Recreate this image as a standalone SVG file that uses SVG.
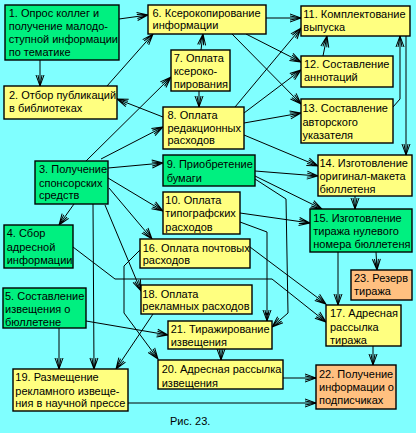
<svg xmlns="http://www.w3.org/2000/svg" width="416" height="433" viewBox="0 0 416 433">
<style>
.b{stroke:#000;stroke-width:1.4}
.g{fill:#00F080}
.y{fill:#FFFF80}
.o{fill:#FFC080}
text{font-family:"Liberation Sans",Arial,sans-serif;font-size:11px;fill:#000}
.c line,.c polyline{stroke:#000;stroke-width:1;fill:none;marker-end:url(#a)}
</style>
<defs>
<marker id="a" viewBox="-12 -5 13 10" markerWidth="13" markerHeight="10" refX="0" refY="0" orient="auto" markerUnits="userSpaceOnUse" overflow="visible">
<path d="M-11,-4 L0,0 L-11,4 M-11,-2 L0,0 L-11,2" fill="none" stroke="#000" stroke-width="1"/>
</marker>
</defs>
<rect width="416" height="433" fill="#80FFFF"/>
<g class="c">
<line x1="119" y1="19" x2="148" y2="15"/>
<line x1="40" y1="60" x2="40" y2="86"/>
<line x1="107" y1="86" x2="153" y2="34"/>
<line x1="163" y1="117" x2="117" y2="99"/>
<line x1="86" y1="161" x2="171" y2="77"/>
<line x1="101" y1="159" x2="163" y2="127"/>
<line x1="201" y1="50" x2="203" y2="34"/>
<line x1="199" y1="91" x2="199" y2="107"/>
<line x1="266" y1="18" x2="301" y2="18"/>
<line x1="246" y1="34" x2="301" y2="62"/>
<line x1="232" y1="34" x2="301" y2="104"/>
<line x1="235" y1="107" x2="301" y2="28"/>
<line x1="244" y1="113" x2="301" y2="70"/>
<line x1="244" y1="123" x2="301" y2="113"/>
<line x1="244" y1="135" x2="318" y2="166"/>
<line x1="323" y1="56" x2="327" y2="36"/>
<polyline points="393,107 400,99 400,36"/>
<line x1="406" y1="36" x2="406" y2="155"/>
<line x1="108" y1="168" x2="163" y2="163"/>
<line x1="255" y1="171" x2="318" y2="176"/>
<line x1="255" y1="176" x2="322" y2="209"/>
<polyline points="255,179 286,199 288,313 272,327"/>
<line x1="108" y1="178" x2="163" y2="211"/>
<line x1="240" y1="213" x2="310" y2="223"/>
<polyline points="240,222 267,232 267,321"/>
<circle cx="267" cy="314" r="1.6" fill="#000"/>
<line x1="355" y1="196" x2="355" y2="209"/>
<line x1="376" y1="252" x2="377" y2="270"/>
<line x1="338" y1="252" x2="338" y2="305"/>
<line x1="74" y1="204" x2="59" y2="225"/>
<line x1="109" y1="188" x2="152" y2="239"/>
<line x1="105" y1="205" x2="141" y2="291"/>
<line x1="93" y1="204" x2="94" y2="369"/>
<polyline points="73,247 115,279 272,279 326,322"/>
<line x1="250" y1="247" x2="326" y2="304"/>
<polyline points="140,250 124,266 124,313 158,359"/>
<line x1="153" y1="314" x2="116" y2="369"/>
<line x1="86" y1="321" x2="168" y2="335"/>
<line x1="59" y1="328" x2="59" y2="369"/>
<line x1="221" y1="349" x2="221" y2="360"/>
<line x1="283" y1="378" x2="316" y2="378"/>
<line x1="128" y1="403" x2="316" y2="403"/>
<line x1="373" y1="346" x2="373" y2="365"/>
</g>
<g id="n1"><rect class="b g" x="5" y="5" width="114" height="55"/><text x="8.7" y="17.3">1. Опрос коллег и</text><text x="8.7" y="30.3">получение малодо-</text><text x="8.7" y="43.3">ступной информации</text><text x="8.7" y="56">по тематике</text></g>
<g id="n6"><rect class="b y" x="148" y="5" width="118" height="29"/><text x="152.5" y="16.5">6. Ксерокопирование</text><text x="152.5" y="29.3">информации</text></g>
<g id="n11"><rect class="b y" x="301" y="6" width="109" height="30"/><text x="303.3" y="18">11. Комплектование</text><text x="303.3" y="31">выпуска</text></g>
<g id="n7"><rect class="b y" x="171" y="50" width="59" height="41"/><text x="173.7" y="62">7. Оплата</text><text x="173.7" y="75.3">ксероко-</text><text x="173.7" y="88.3">пирования</text></g>
<g id="n12"><rect class="b y" x="301" y="56" width="92" height="31"/><text x="304" y="68">12. Составление</text><text x="304" y="81">аннотаций</text></g>
<g id="n2"><rect class="b y" x="4" y="86" width="113" height="33"/><text x="9" y="99.3">2. Отбор публикаций</text><text x="9" y="112.3">в библиотеках</text></g>
<g id="n8"><rect class="b y" x="163" y="107" width="81" height="42"/><text x="167.5" y="118.5">8. Оплата</text><text x="167.5" y="131.7">редакционных</text><text x="167.5" y="144.3">расходов</text></g>
<g id="n13"><rect class="b y" x="301" y="99" width="92" height="44"/><text x="302.5" y="112.3">13. Составление</text><text x="302.5" y="125.7">авторского</text><text x="302.5" y="138.7">указателя</text></g>
<g id="n3"><rect class="b g" x="35" y="161" width="73" height="43"/><text x="39" y="173.3">3. Получение</text><text x="39" y="186.7">спонсорских</text><text x="39" y="199.3">средств</text></g>
<g id="n9"><rect class="b g" x="163" y="155" width="92" height="31"/><text x="166.7" y="168.3">9. Приобретение</text><text x="166.7" y="181.7">бумаги</text></g>
<g id="n14"><rect class="b y" x="318" y="155" width="94" height="41"/><text x="319.5" y="167">14. Изготовление</text><text x="319.5" y="180.3">оригинал-макета</text><text x="319.5" y="193.3">бюллетеня</text></g>
<g id="n10"><rect class="b y" x="163" y="192" width="77" height="42"/><text x="165.3" y="204.3">10. Оплата</text><text x="165.3" y="217.3">типографских</text><text x="165.3" y="230.7">расходов</text></g>
<g id="n15"><rect class="b g" x="310" y="209" width="102" height="43"/><text x="313.3" y="221.7">15. Изготовление</text><text x="313.3" y="235">тиража нулевого</text><text x="313.3" y="247.7">номера бюллетеня</text></g>
<g id="n4"><rect class="b g" x="4" y="225" width="69" height="43"/><text x="6.7" y="237.3">4. Сбор</text><text x="6.7" y="250.7">адресной</text><text x="6.7" y="264">информации</text></g>
<g id="n16"><rect class="b y" x="140" y="239" width="110" height="29"/><text x="142.7" y="251.7">16. Оплата почтовых</text><text x="142.7" y="264.3">расходов</text></g>
<g id="n23"><rect class="b o" x="351" y="270" width="61" height="30"/><text x="354" y="282">23. Резерв</text><text x="354" y="295.3">тиража</text></g>
<g id="n18"><rect class="b y" x="141" y="285" width="111" height="29"/><text x="142.3" y="297.7">18. Оплата</text><text x="142.3" y="310.3">рекламных расходов</text></g>
<g id="n5"><rect class="b g" x="3" y="288" width="83" height="40"/><text x="5" y="300">5. Составление</text><text x="5" y="313.3">извещения о</text><text x="5" y="326">бюллетене</text></g>
<g id="n17"><rect class="b y" x="326" y="305" width="75" height="41"/><text x="330" y="317.3">17. Адресная</text><text x="330" y="330.7">рассылка</text><text x="330" y="343.7">тиража</text></g>
<g id="n21"><rect class="b y" x="168" y="321" width="104" height="28"/><text x="170.7" y="332.7">21. Тиражирование</text><text x="170.7" y="345.7">извещения</text></g>
<g id="n20"><rect class="b y" x="158" y="360" width="125" height="29"/><text x="161.7" y="373.3">20. Адресная рассылка</text><text x="161.7" y="386.7">извещения</text></g>
<g id="n22"><rect class="b o" x="316" y="365" width="80" height="44"/><text x="319" y="377.7">22. Получение</text><text x="319" y="391">информации о</text><text x="319" y="404">подписчиках</text></g>
<g id="n19"><rect class="b y" x="13" y="369" width="115" height="42"/><text x="15.3" y="381.3">19. Размещение</text><text x="15.3" y="394.7">рекламного извеще-</text><text x="15.3" y="407.3">ния в научной прессе</text></g>
<text x="170" y="425">Рис. 23.</text>
</svg>
